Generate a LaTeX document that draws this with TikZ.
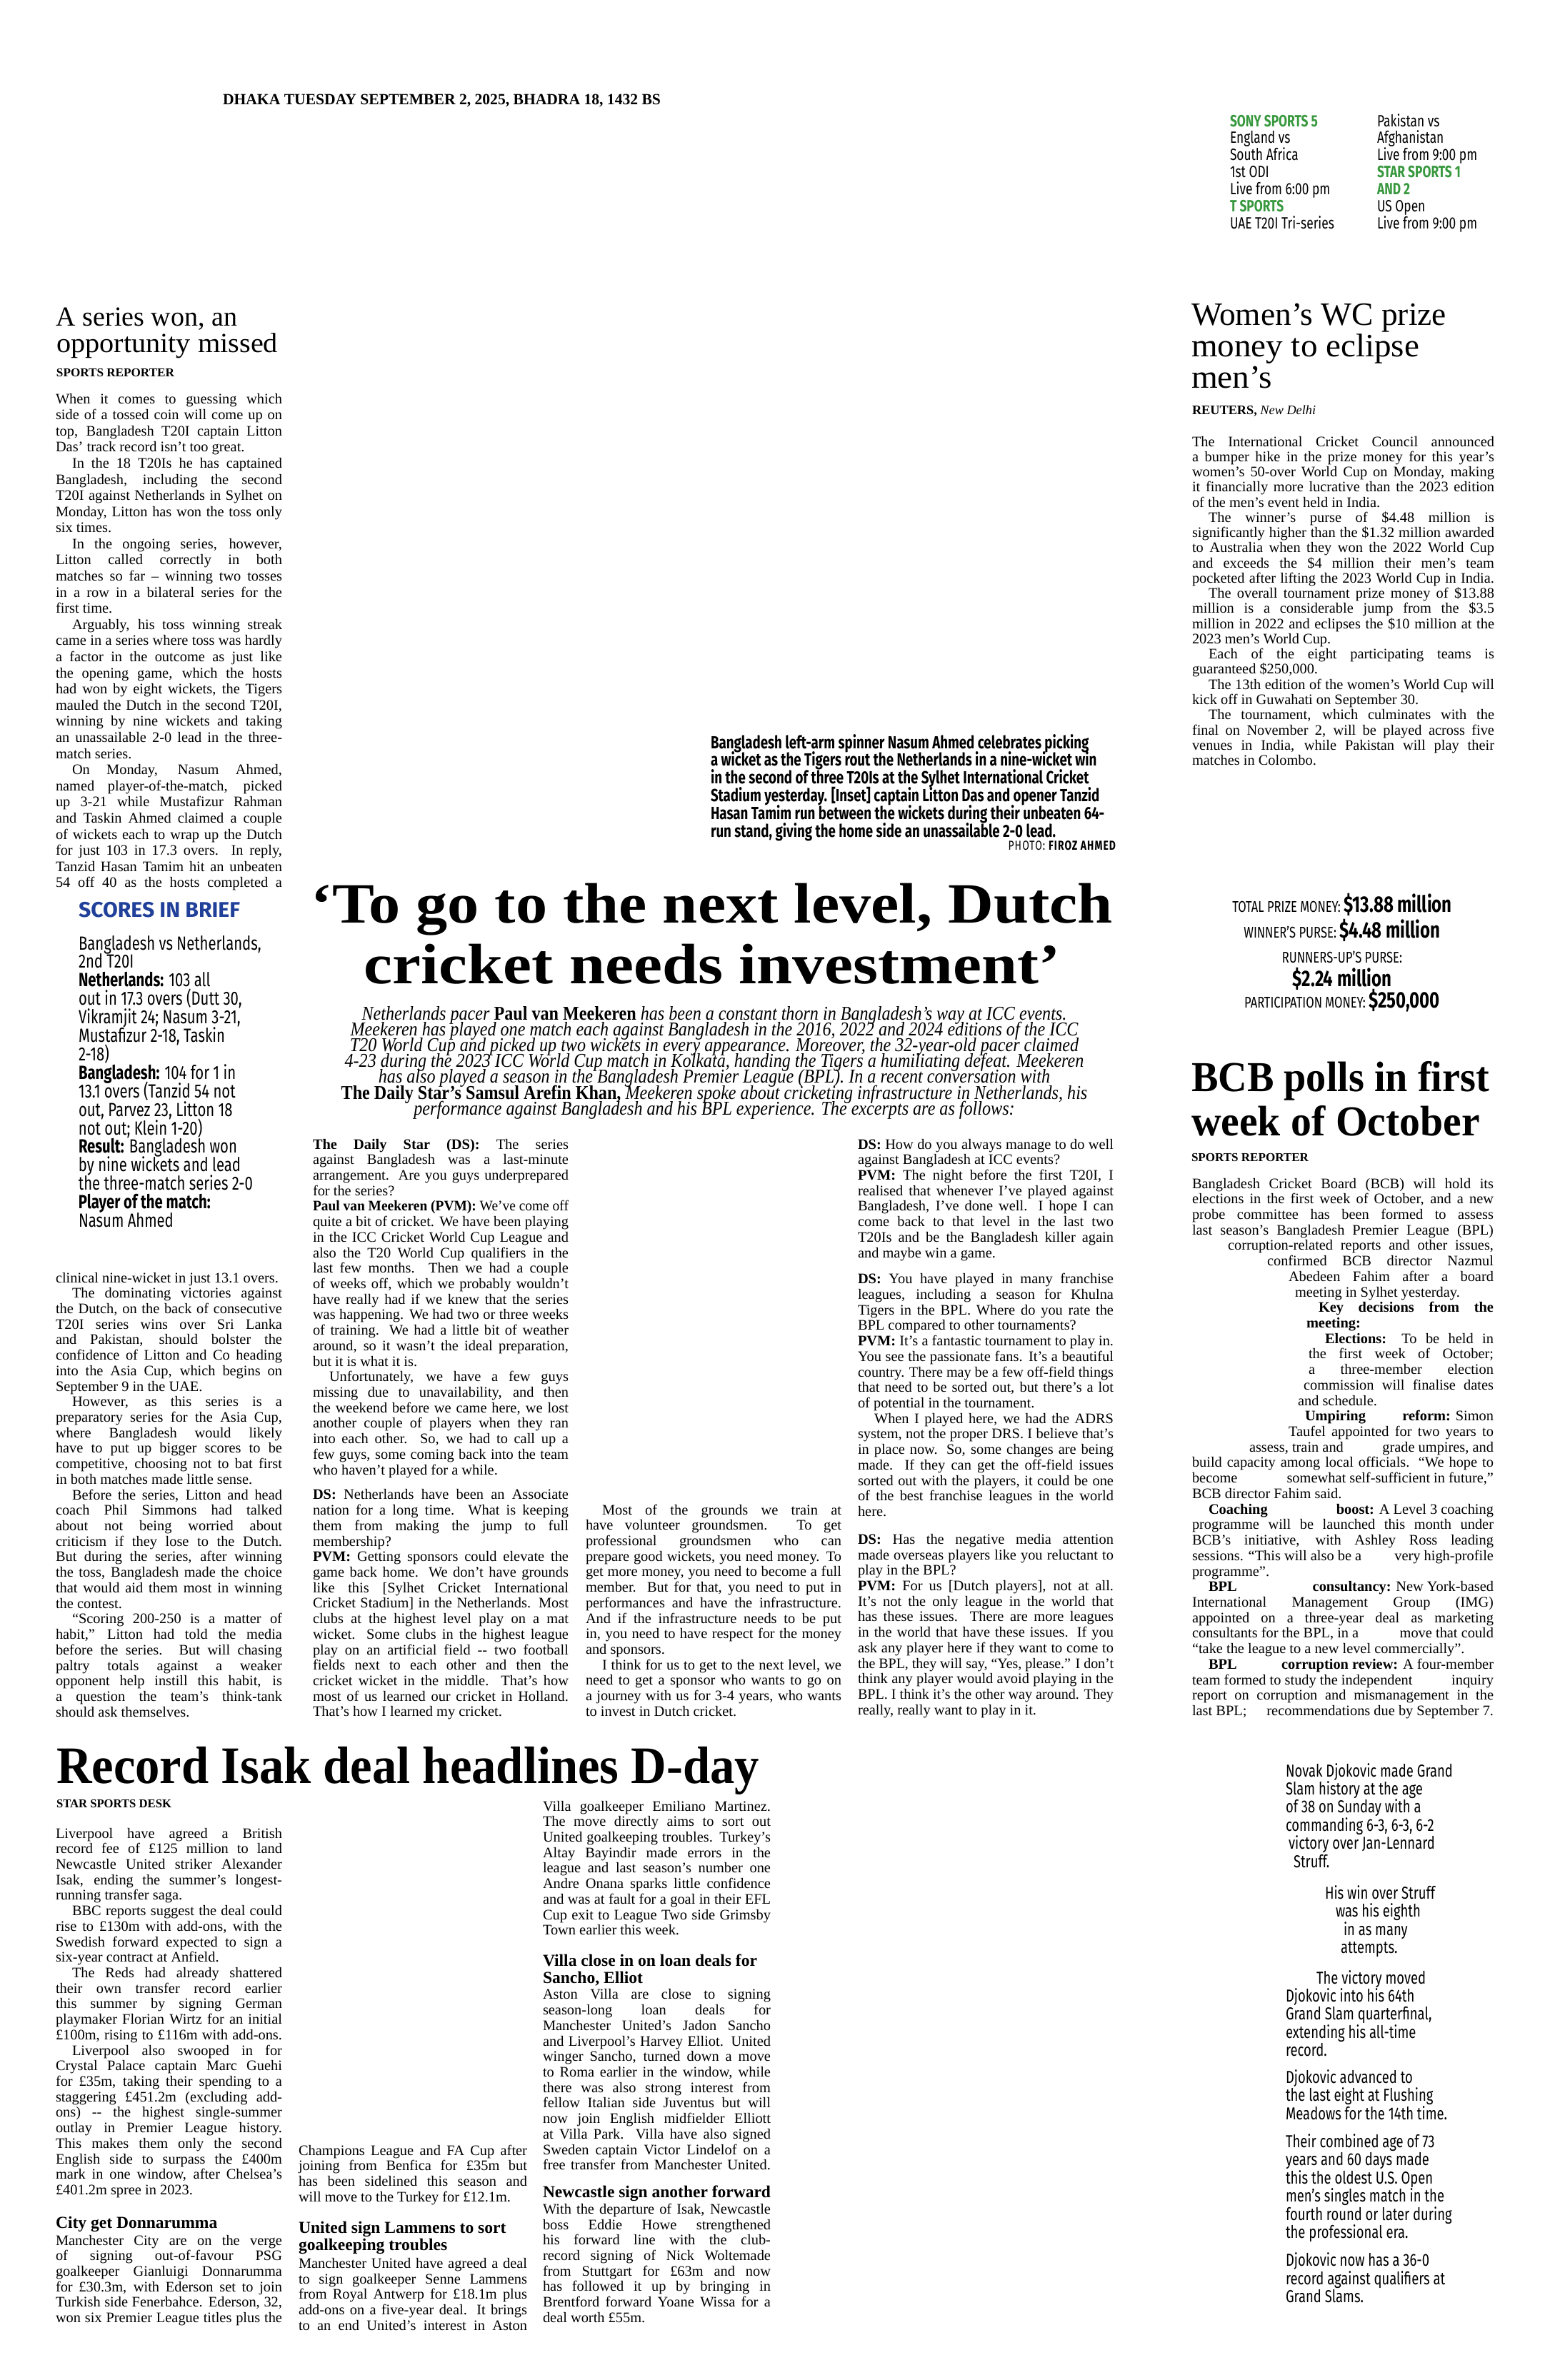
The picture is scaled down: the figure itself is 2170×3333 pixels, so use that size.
\documentclass[tikz,border=0pt]{standalone}
\usepackage{fontspec}
\usepackage{graphicx}
\setmainfont{Liberation Serif}
\newfontfamily\cond[FakeStretch=0.76,Ligatures=TeX]{Fira Sans}
\newfontfamily\introf[FakeStretch=0.88,Ligatures=TeX]{Liberation Serif}
\definecolor{tvgreen}{RGB}{56,152,62}
\definecolor{sibblue}{RGB}{33,64,154}
\hbadness=10000 \hfuzz=\maxdimen \vbadness=10000 \vfuzz=\maxdimen
\lineskiplimit=-\maxdimen
\newbox\jbox
\newcommand\bodyfont{\fontsize{5.8}{6.18}\selectfont}
\newcommand\jj[1]{\par\noindent\setbox\jbox=\hbox{#1}\ifdim\wd\jbox>\hsize\resizebox{\hsize}{\height}{\box\jbox}\else\hbox to\hsize{\unhcopy\jbox}\fi\par}
\newcommand\je[1]{\par\noindent\setbox\jbox=\hbox{#1}\ifdim\wd\jbox>\hsize\resizebox{\hsize}{\height}{\box\jbox}\else\box\jbox\fi\par}
\newcommand\ind{\hskip2.3mm\relax}
\newcommand\hs[1]{\hskip#1\relax}
\newcommand\vgap[1]{\par\vskip#1\relax}
\newcommand\blk[2]{\parbox[t]{#1}{\lineskiplimit=-\maxdimen\setlength\parindent{0pt}\setlength\parskip{0pt}#2}}
\newcommand\fitto[2]{\resizebox{#1}{\height}{#2}}
\newcommand\subh{\bfseries\fontsize{6.7}{6.18}\selectfont}
\begin{document}
\begin{tikzpicture}[x=0.1mm,y=-0.1mm,txt/.style={inner sep=0pt,outer sep=0pt}]
\fill[white] (0,0) rectangle (2170,3333);
\useasboundingbox (0,0) rectangle (2170,3333);

% dateline
\node[txt,anchor=base west] (dateline) at (312,146) {\fitto{61.3mm}{\fontsize{6.2}{7}\selectfont\bfseries DHAKA TUESDAY SEPTEMBER 2, 2025, BHADRA 18, 1432 BS}};

% TV listings
\node[txt,anchor=base west] (tvA) at (1722,177) {\blk{40mm}{\cond\fontsize{6.5}{6.8}\selectfont
\je{{\color{tvgreen}\bfseries SONY SPORTS 5}}
\je{England vs}
\je{South Africa}
\je{1st ODI}
\je{Live from 6:00 pm}
\je{{\color{tvgreen}\bfseries T SPORTS}}
\je{UAE T20I Tri-series}}};
\node[txt,anchor=base west] (tvB) at (1928,177) {\blk{40mm}{\cond\fontsize{6.5}{6.8}\selectfont
\je{Pakistan vs}
\je{Afghanistan}
\je{Live from 9:00 pm}
\je{{\color{tvgreen}\bfseries STAR SPORTS 1}}
\je{{\color{tvgreen}\bfseries AND 2}}
\je{US Open}
\je{Live from 9:00 pm}}};

% Left article
\node[txt,anchor=base west] (lhead1) at (79,456) {\fitto{25.3mm}{\fontsize{11}{11}\selectfont A series won, an}};
\node[txt,anchor=base west] (lhead2) at (79,493) {\fitto{31mm}{\fontsize{11}{11}\selectfont opportunity missed}};
\node[txt,anchor=base west] (lbyline) at (79,527) {\fitto{16.5mm}{\fontsize{4.8}{5}\selectfont\bfseries SPORTS REPORTER}};
\node[txt,anchor=base west] (lbody1) at (78,565) {\blk{31.7mm}{\fontsize{5.8}{6.43}\selectfont
\jj{When it comes to guessing which}
\jj{side of a tossed coin will come up on}
\jj{top, Bangladesh T20I captain Litton}
\je{Das' track record isn't too great.}
\jj{\ind In the 18 T20Is he has captained}
\jj{Bangladesh, including the second}
\jj{T20I against Netherlands in Sylhet on}
\jj{Monday, Litton has won the toss only}
\je{six times.}
\jj{\ind In the ongoing series, however,}
\jj{Litton called correctly in both}
\jj{matches so far – winning two tosses}
\jj{in a row in a bilateral series for the}
\je{first time.}
\jj{\ind Arguably, his toss winning streak}
\jj{came in a series where toss was hardly}
\jj{a factor in the outcome as just like}
\jj{the opening game, which the hosts}
\jj{had won by eight wickets, the Tigers}
\jj{mauled the Dutch in the second T20I,}
\jj{winning by nine wickets and taking}
\jj{an unassailable 2-0 lead in the three-}
\je{match series.}
\jj{\ind On Monday, Nasum Ahmed,}
\jj{named player-of-the-match, picked}
\jj{up 3-21 while Mustafizur Rahman}
\jj{and Taskin Ahmed claimed a couple}
\jj{of wickets each to wrap up the Dutch}
\jj{for just 103 in 17.3 overs. In reply,}
\jj{Tanzid Hasan Tamim hit an unbeaten}
\jj{54 off 40 as the hosts completed a}}};

% Scores in brief
\node[txt,anchor=base west] (sibhead) at (110,1284) {\fitto{22.6mm}{\cond\bfseries\fontsize{8.5}{9}\selectfont\color{sibblue}SCORES IN BRIEF}};
\node[txt,anchor=base west] (sibbody) at (110,1330) {\blk{40mm}{\cond\fontsize{7.6}{7.37}\selectfont
\je{Bangladesh vs Netherlands,}
\je{2nd T20I}
\je{\textbf{Netherlands:} 103 all}
\je{out in 17.3 overs (Dutt 30,}
\je{Vikramjit 24; Nasum 3-21,}
\je{Mustafizur 2-18, Taskin}
\je{2-18)}
\je{\textbf{Bangladesh:} 104 for 1 in}
\je{13.1 overs (Tanzid 54 not}
\je{out, Parvez 23, Litton 18}
\je{not out; Klein 1-20)}
\je{\textbf{Result:} Bangladesh won}
\je{by nine wickets and lead}
\je{the three-match series 2-0}
\je{\textbf{Player of the match:}}
\je{Nasum Ahmed}}};

\node[txt,anchor=base west] (lbody2) at (78,1796) {\blk{31.7mm}{\bodyfont
\je{clinical nine-wicket in just 13.1 overs.}
\jj{\ind The dominating victories against}
\jj{the Dutch, on the back of consecutive}
\jj{T20I series wins over Sri Lanka}
\jj{and Pakistan, should bolster the}
\jj{confidence of Litton and Co heading}
\jj{into the Asia Cup, which begins on}
\je{September 9 in the UAE.}
\jj{\ind However, as this series is a}
\jj{preparatory series for the Asia Cup,}
\jj{where Bangladesh would likely}
\jj{have to put up bigger scores to be}
\jj{competitive, choosing not to bat first}
\je{in both matches made little sense.}
\jj{\ind Before the series, Litton and head}
\jj{coach Phil Simmons had talked}
\jj{about not being worried about}
\jj{criticism if they lose to the Dutch.}
\jj{But during the series, after winning}
\jj{the toss, Bangladesh made the choice}
\jj{that would aid them most in winning}
\je{the contest.}
\jj{\ind “Scoring 200-250 is a matter of}
\jj{habit,” Litton had told the media}
\jj{before the series. But will chasing}
\jj{paltry totals against a weaker}
\jj{opponent help instill this habit, is}
\jj{a question the team's think-tank}
\je{should ask themselves.}}};

% Women's WC
\node[txt,anchor=base west] (whead1) at (1668,455) {\fitto{35.7mm}{\fontsize{13}{13}\selectfont Women's WC prize}};
\node[txt,anchor=base west] (whead2) at (1668,499) {\fitto{31.9mm}{\fontsize{13}{13}\selectfont money to eclipse}};
\node[txt,anchor=base west] (whead3) at (1668,543) {\fitto{11.3mm}{\fontsize{13}{13}\selectfont men's}};
\node[txt,anchor=base west] (wbyline) at (1669,580) {\fontsize{5.2}{6}\selectfont\textbf{REUTERS,} \textit{New Delhi}};
\node[txt,anchor=base west] (wbody) at (1669,625) {\blk{42.3mm}{\fontsize{5.8}{6.05}\selectfont
\jj{The International Cricket Council announced}
\jj{a bumper hike in the prize money for this year's}
\jj{women's 50-over World Cup on Monday, making}
\jj{it financially more lucrative than the 2023 edition}
\je{of the men's event held in India.}
\jj{\ind The winner's purse of \$4.48 million is}
\jj{significantly higher than the \$1.32 million awarded}
\jj{to Australia when they won the 2022 World Cup}
\jj{and exceeds the \$4 million their men's team}
\jj{pocketed after lifting the 2023 World Cup in India.}
\jj{\ind The overall tournament prize money of \$13.88}
\jj{million is a considerable jump from the \$3.5}
\jj{million in 2022 and eclipses the \$10 million at the}
\je{2023 men's World Cup.}
\jj{\ind Each of the eight participating teams is}
\je{guaranteed \$250,000.}
\jj{\ind The 13th edition of the women's World Cup will}
\je{kick off in Guwahati on September 30.}
\jj{\ind The tournament, which culminates with the}
\jj{final on November 2, will be played across five}
\jj{venues in India, while Pakistan will play their}
\je{matches in Colombo.}}};

% Photo caption
\node[txt,anchor=base west] (caption) at (995,1048) {\blk{60mm}{\cond\bfseries\fontsize{7}{7.1}\selectfont
\je{Bangladesh left-arm spinner Nasum Ahmed celebrates picking}
\je{a wicket as the Tigers rout the Netherlands in a nine-wicket win}
\je{in the second of three T20Is at the Sylhet International Cricket}
\je{Stadium yesterday. [Inset] captain Litton Das and opener Tanzid}
\je{Hasan Tamim run between the wickets during their unbeaten 64-}
\je{run stand, giving the home side an unassailable 2-0 lead.}}};
\node[txt,anchor=base east] (credit) at (1562,1190) {\cond\fontsize{5.2}{6}\selectfont\addfontfeature{LetterSpace=6}PHOTO: \bfseries FIROZ AHMED};

% Main headline
\node[txt,anchor=base] (mhead1) at (997,1292) {\fitto{112.2mm}{\fontsize{22.7}{24}\selectfont\bfseries ‘To go to the next level, Dutch}};
\node[txt,anchor=base] (mhead2) at (997,1377) {\fitto{97.4mm}{\fontsize{22.7}{24}\selectfont\bfseries cricket needs investment’}};

% Intro
\node[txt,anchor=base] (intro) at (1000,1428) {\parbox[t]{120mm}{\centering\lineskiplimit=-\maxdimen\introf\itshape\fontsize{7.8}{6.32}\selectfont
Netherlands pacer \textbf{\upshape Paul van Meekeren} has been a constant thorn in Bangladesh's way at ICC events.\\
Meekeren has played one match each against Bangladesh in the 2016, 2022 and 2024 editions of the ICC\\
T20 World Cup and picked up two wickets in every appearance. Moreover, the 32-year-old pacer claimed\\
4-23 during the 2023 ICC World Cup match in Kolkata, handing the Tigers a humiliating defeat. Meekeren\\
has also played a season in the Bangladesh Premier League (BPL). In a recent conversation with\\
\textbf{\upshape The Daily Star's Samsul Arefin Khan,} Meekeren spoke about cricketing infrastructure in Netherlands, his\\
performance against Bangladesh and his BPL experience. The excerpts are as follows:}};

% Interview column 1
\node[txt,anchor=base west] (icol1) at (438,1609) {\blk{35.8mm}{\bodyfont
\jj{\textbf{The Daily Star (DS):} The series}
\jj{against Bangladesh was a last-minute}
\jj{arrangement. Are you guys underprepared}
\je{for the series?}
\jj{\textbf{Paul van Meekeren (PVM):} We've come off}
\jj{quite a bit of cricket. We have been playing}
\jj{in the ICC Cricket World Cup League and}
\jj{also the T20 World Cup qualifiers in the}
\jj{last few months. Then we had a couple}
\jj{of weeks off, which we probably wouldn't}
\jj{have really had if we knew that the series}
\jj{was happening. We had two or three weeks}
\jj{of training. We had a little bit of weather}
\jj{around, so it wasn't the ideal preparation,}
\je{but it is what it is.}
\jj{\ind Unfortunately, we have a few guys}
\jj{missing due to unavailability, and then}
\jj{the weekend before we came here, we lost}
\jj{another couple of players when they ran}
\jj{into each other. So, we had to call up a}
\jj{few guys, some coming back into the team}
\je{who haven't played for a while.}
\vgap{1.3mm}
\jj{\textbf{DS:} Netherlands have been an Associate}
\jj{nation for a long time. What is keeping}
\jj{them from making the jump to full}
\je{membership?}
\jj{\textbf{PVM:} Getting sponsors could elevate the}
\jj{game back home. We don't have grounds}
\jj{like this [Sylhet Cricket International}
\jj{Cricket Stadium] in the Netherlands. Most}
\jj{clubs at the highest level play on a mat}
\jj{wicket. Some clubs in the highest league}
\jj{play on an artificial field -{}- two football}
\jj{fields next to each other and then the}
\jj{cricket wicket in the middle. That's how}
\jj{most of us learned our cricket in Holland.}
\je{That's how I learned my cricket.}}};

% Interview column 2
\node[txt,anchor=base west] (icol2) at (820,2121) {\blk{35.8mm}{\bodyfont
\jj{\ind Most of the grounds we train at}
\jj{have volunteer groundsmen. To get}
\jj{professional groundsmen who can}
\jj{prepare good wickets, you need money. To}
\jj{get more money, you need to become a full}
\jj{member. But for that, you need to put in}
\jj{performances and have the infrastructure.}
\jj{And if the infrastructure needs to be put}
\jj{in, you need to have respect for the money}
\je{and sponsors.}
\jj{\ind I think for us to get to the next level, we}
\jj{need to get a sponsor who wants to go on}
\jj{a journey with us for 3-4 years, who wants}
\je{to invest in Dutch cricket.}}};

% Interview column 3
\node[txt,anchor=base west] (icol3) at (1201,1609) {\blk{35.8mm}{\bodyfont
\jj{\textbf{DS:} How do you always manage to do well}
\je{against Bangladesh at ICC events?}
\jj{\textbf{PVM:} The night before the first T20I, I}
\jj{realised that whenever I've played against}
\jj{Bangladesh, I've done well. I hope I can}
\jj{come back to that level in the last two}
\jj{T20Is and be the Bangladesh killer again}
\je{and maybe win a game.}
\vgap{1.5mm}
\jj{\textbf{DS:} You have played in many franchise}
\jj{leagues, including a season for Khulna}
\jj{Tigers in the BPL. Where do you rate the}
\je{BPL compared to other tournaments?}
\jj{\textbf{PVM:} It's a fantastic tournament to play in.}
\jj{You see the passionate fans. It's a beautiful}
\jj{country. There may be a few off-field things}
\jj{that need to be sorted out, but there's a lot}
\je{of potential in the tournament.}
\jj{\ind When I played here, we had the ADRS}
\jj{system, not the proper DRS. I believe that's}
\jj{in place now. So, some changes are being}
\jj{made. If they can get the off-field issues}
\jj{sorted out with the players, it could be one}
\jj{of the best franchise leagues in the world}
\je{here.}
\vgap{1.7mm}
\jj{\textbf{DS:} Has the negative media attention}
\jj{made overseas players like you reluctant to}
\je{play in the BPL?}
\jj{\textbf{PVM:} For us [Dutch players], not at all.}
\jj{It's not the only league in the world that}
\jj{has these issues. There are more leagues}
\jj{in the world that have these issues. If you}
\jj{ask any player here if they want to come to}
\jj{the BPL, they will say, “Yes, please.” I don't}
\jj{think any player would avoid playing in the}
\jj{BPL. I think it's the other way around. They}
\je{really, really want to play in it.}}};

% Prize money box
\node[txt,anchor=base] (prize1) at (1879,1277) {\cond\fontsize{6.2}{7}\selectfont TOTAL PRIZE MONEY: {\bfseries\fontsize{9}{9}\selectfont \$13.88 million}};
\node[txt,anchor=base] (prize2) at (1879,1313) {\cond\fontsize{6.2}{7}\selectfont WINNER'S PURSE: {\bfseries\fontsize{9}{9}\selectfont \$4.48 million}};
\node[txt,anchor=base] (prize3) at (1879,1348) {\cond\fontsize{6.2}{7}\selectfont RUNNERS-UP'S PURSE:};
\node[txt,anchor=base] (prize4) at (1879,1381) {\cond\bfseries\fontsize{9}{9}\selectfont \$2.24 million};
\node[txt,anchor=base] (prize5) at (1879,1411) {\cond\fontsize{6.2}{7}\selectfont PARTICIPATION MONEY: {\bfseries\fontsize{9}{9}\selectfont \$250,000}};

% BCB article
\node[txt,anchor=base west] (bhead1) at (1668,1528) {\fitto{41.7mm}{\fontsize{17}{17}\selectfont\bfseries BCB polls in first}};
\node[txt,anchor=base west] (bhead2) at (1668,1590) {\fitto{40.4mm}{\fontsize{17}{17}\selectfont\bfseries week of October}};
\node[txt,anchor=base west] (bbyline) at (1668,1626) {\fitto{16.4mm}{\fontsize{4.8}{5}\selectfont\bfseries SPORTS REPORTER}};
\node[txt,anchor=base west] (bbody) at (1669,1664) {\blk{42.2mm}{\bodyfont
\jj{Bangladesh Cricket Board (BCB) will hold its}
\jj{elections in the first week of October, and a new}
\jj{probe committee has been formed to assess}
\jj{last season's Bangladesh Premier League (BPL)}
\jj{\hs{5mm}corruption-related reports and other issues,}
\jj{\hs{10.5mm}confirmed BCB director Nazmul}
\jj{\hs{13.5mm}Abedeen Fahim after a board}
\je{\hs{14.4mm}meeting in Sylhet yesterday.}
\jj{\hs{17.7mm}\textbf{Key decisions from the}}
\je{\hs{16mm}\textbf{meeting:}}
\jj{\hs{18.6mm}\textbf{Elections:} To be held in}
\jj{\hs{16.3mm}the first week of October;}
\jj{\hs{16.3mm}a three-member election}
\jj{\hs{15.6mm}commission will finalise dates}
\je{\hs{14.8mm}and schedule.}
\jj{\hs{15.8mm}\textbf{Umpiring}\hfill\textbf{reform:} Simon}
\jj{\hs{13.5mm}Taufel appointed for two years to}
\jj{\hs{8mm}assess, train and\hfill grade umpires, and}
\jj{build capacity among local officials. “We hope to}
\jj{become\hfill somewhat self-sufficient in future,”}
\je{BCB director Fahim said.}
\jj{\ind\textbf{Coaching}\hfill\textbf{boost:} A Level 3 coaching}
\jj{programme will be launched this month under}
\jj{BCB's initiative, with Ashley Ross leading}
\jj{sessions. “This will also be a\hfill very high-profile}
\je{programme”.}
\jj{\ind\textbf{BPL}\hfill\textbf{consultancy:} New York-based}
\jj{International Management Group (IMG)}
\jj{appointed on a three-year deal as marketing}
\jj{consultants for the BPL, in a\hfill move that could}
\je{“take the league to a new level commercially”.}
\jj{\ind\textbf{BPL}\hfill\textbf{corruption review:} A four-member}
\jj{team formed to study the independent\hfill inquiry}
\jj{report on corruption and mismanagement in the}
\jj{last BPL;\hfill recommendations due by September 7.}}};

% Isak article
\node[txt,anchor=base west] (ihead) at (79,2497) {\fitto{98.4mm}{\fontsize{21}{21}\selectfont\bfseries Record Isak deal headlines D-day}};
\node[txt,anchor=base west] (ibyline) at (79,2531) {\fitto{16.1mm}{\fontsize{4.8}{5}\selectfont\bfseries STAR SPORTS DESK}};
\node[txt,anchor=base west] (isak1) at (78,2574) {\blk{31.7mm}{\bodyfont
\jj{Liverpool have agreed a British}
\jj{record fee of £125 million to land}
\jj{Newcastle United striker Alexander}
\jj{Isak, ending the summer's longest-}
\je{running transfer saga.}
\jj{\ind BBC reports suggest the deal could}
\jj{rise to £130m with add-ons, with the}
\jj{Swedish forward expected to sign a}
\je{six-year contract at Anfield.}
\jj{\ind The Reds had already shattered}
\jj{their own transfer record earlier}
\jj{this summer by signing German}
\jj{playmaker Florian Wirtz for an initial}
\jj{£100m, rising to £116m with add-ons.}
\jj{\ind Liverpool also swooped in for}
\jj{Crystal Palace captain Marc Guehi}
\jj{for £35m, taking their spending to a}
\jj{staggering £451.2m (excluding add-}
\jj{ons) -{}- the highest single-summer}
\jj{outlay in Premier League history.}
\jj{This makes them only the second}
\jj{English side to surpass the £400m}
\jj{mark in one window, after Chelsea's}
\je{£401.2m spree in 2023.}
\vgap{2.5mm}
\je{\subh City get Donnarumma}
\vgap{0.2mm}
\jj{Manchester City are on the verge}
\jj{of signing out-of-favour PSG}
\jj{goalkeeper Gianluigi Donnarumma}
\jj{for £30.3m, with Ederson set to join}
\jj{Turkish side Fenerbahce. Ederson, 32,}
\jj{won six Premier League titles plus the}}};
\node[txt,anchor=base west] (isak2) at (418,3018) {\blk{32mm}{\bodyfont
\jj{Champions League and FA Cup after}
\jj{joining from Benfica for £35m but}
\jj{has been sidelined this season and}
\je{will move to the Turkey for £12.1m.}
\vgap{2.3mm}
\je{\subh United sign Lammens to sort}
\vgap{0.2mm}
\je{\subh goalkeeping troubles}
\vgap{0.3mm}
\jj{Manchester United have agreed a deal}
\jj{to sign goalkeeper Senne Lammens}
\jj{from Royal Antwerp for £18.1m plus}
\jj{add-ons on a five-year deal. It brings}
\jj{to an end United's interest in Aston}}};
\node[txt,anchor=base west] (isak3) at (760,2536) {\blk{31.9mm}{\bodyfont
\jj{Villa goalkeeper Emiliano Martinez.}
\jj{The move directly aims to sort out}
\jj{United goalkeeping troubles. Turkey's}
\jj{Altay Bayindir made errors in the}
\jj{league and last season's number one}
\jj{Andre Onana sparks little confidence}
\jj{and was at fault for a goal in their EFL}
\jj{Cup exit to League Two side Grimsby}
\je{Town earlier this week.}
\vgap{2.2mm}
\je{\subh Villa close in on loan deals for}
\vgap{0.2mm}
\je{\subh Sancho, Elliot}
\vgap{0.1mm}
\jj{Aston Villa are close to signing}
\jj{season-long loan deals for}
\jj{Manchester United's Jadon Sancho}
\jj{and Liverpool's Harvey Elliot. United}
\jj{winger Sancho, turned down a move}
\jj{to Roma earlier in the window, while}
\jj{there was also strong interest from}
\jj{fellow Italian side Juventus but will}
\jj{now join English midfielder Elliott}
\jj{at Villa Park. Villa have also signed}
\jj{Sweden captain Victor Lindelof on a}
\jj{free transfer from Manchester United.}
\vgap{1.7mm}
\je{\subh Newcastle sign another forward}
\vgap{0.1mm}
\jj{With the departure of Isak, Newcastle}
\jj{boss Eddie Howe strengthened}
\jj{his forward line with the club-}
\jj{record signing of Nick Woltemade}
\jj{from Stuttgart for £63m and now}
\jj{has followed it up by bringing in}
\jj{Brentford forward Yoane Wissa for a}
\je{deal worth £55m.}}};

% Djokovic
\node[txt,anchor=base west] (djoko) at (1800,2488) {\blk{40mm}{\cond\fontsize{6.9}{7.23}\selectfont
\je{Novak Djokovic made Grand}
\je{Slam history at the age}
\je{of 38 on Sunday with a}
\je{commanding 6-3, 6-3, 6-2}
\je{\hs{0.4mm}victory over Jan-Lennard}
\je{\hs{1.1mm}Struff.}
\vgap{1.9mm}
\je{\hs{5.5mm}His win over Struff}
\je{\hs{7mm}was his eighth}
\je{\hs{8.1mm}in as many}
\je{\hs{7.7mm}attempts.}
\vgap{1.7mm}
\je{\hs{4.3mm}The victory moved}
\je{Djokovic into his 64th}
\je{Grand Slam quarterfinal,}
\je{extending his all-time}
\je{record.}
\vgap{1.2mm}
\je{Djokovic advanced to}
\je{the last eight at Flushing}
\je{Meadows for the 14th time.}
\vgap{1.4mm}
\je{Their combined age of 73}
\je{years and 60 days made}
\je{this the oldest U.S. Open}
\je{men's singles match in the}
\je{fourth round or later during}
\je{the professional era.}
\vgap{1.4mm}
\je{Djokovic now has a 36-0}
\je{record against qualifiers at}
\je{Grand Slams.}}};
\end{tikzpicture}
\end{document}
